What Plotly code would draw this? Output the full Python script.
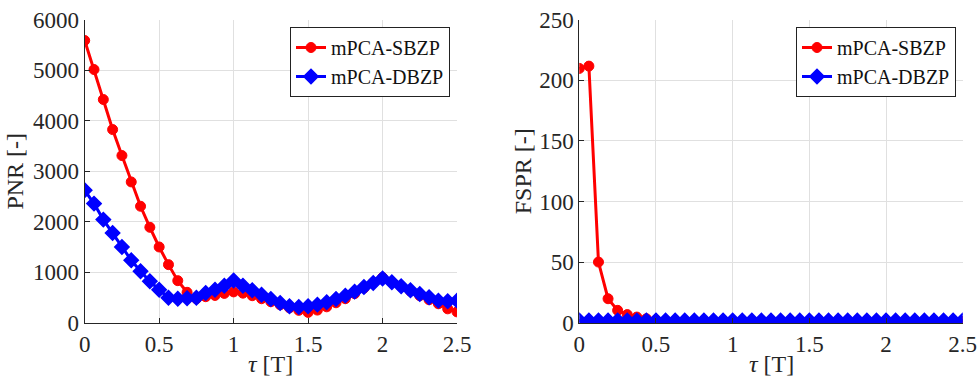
import plotly.graph_objects as go

# delay tau in units of T
tau = [0.0, 0.0625, 0.125, 0.1875, 0.25, 0.3125, 0.375, 0.4375, 0.5, 0.5625,
       0.625, 0.6875, 0.75, 0.8125, 0.875, 0.9375, 1.0, 1.0625, 1.125, 1.1875,
       1.25, 1.3125, 1.375, 1.4375, 1.5, 1.5625, 1.625, 1.6875, 1.75, 1.8125,
       1.875, 1.9375, 2.0, 2.0625, 2.125, 2.1875, 2.25, 2.3125, 2.375, 2.4375,
       2.5]

# peak-to-noise ratio
pnr_sbzp = [5585, 5011, 4418, 3824, 3310, 2789, 2308, 1892, 1503, 1154,
            837, 607, 480, 520, 545, 585, 615, 590, 540, 480,
            420, 360, 300, 250, 210, 255, 320, 400, 480, 580,
            690, 800, 900, 810, 720, 630, 540, 460, 380, 280,
            220]
pnr_dbzp = [2624, 2360, 2044, 1780, 1503, 1240, 1022, 824, 659, 500,
            480, 490, 500, 593, 659, 738, 840, 738, 646, 560,
            475, 396, 330, 316, 330, 363, 409, 475, 541, 620,
            712, 791, 880, 804, 725, 646, 574, 508, 442, 429,
            442]

# false-side-peak ratio
fspr_sbzp = [209.7, 211.6, 50.2, 20.0, 10.4, 6.9, 4.9, 3.5, 2.5, 2.0,
             1.7, 1.5, 1.4, 1.3, 1.3, 1.2, 1.2, 1.2, 1.2, 1.2,
             1.2, 1.2, 1.2, 1.2, 1.2, 1.2, 1.2, 1.2, 1.2, 1.2,
             1.2, 1.2, 1.2, 1.2, 1.2, 1.2, 1.2, 1.2, 1.2, 1.2,
             1.2]
fspr_dbzp = [2.1, 2.0, 2.0, 2.0, 2.0, 2.0, 2.0, 2.0, 2.0, 2.0,
             2.0, 2.0, 2.0, 2.0, 2.0, 2.0, 2.0, 2.0, 2.0, 2.0,
             2.0, 2.0, 2.0, 2.0, 2.0, 2.0, 2.0, 2.0, 2.0, 2.0,
             2.0, 2.0, 2.0, 2.0, 2.0, 2.0, 2.0, 2.0, 2.0, 2.0,
             2.0]

x_ticks = [0, 0.5, 1, 1.5, 2, 2.5]
x_ticklabels = ["0", "0.5", "1", "1.5", "2", "2.5"]
pnr_ticks = [0, 1000, 2000, 3000, 4000, 5000, 6000]
fspr_ticks = [0, 50, 100, 150, 200, 250]
x_title = "<i>τ</i> [T]"

FONT = "Liberation Serif"
AX = "#262626"
GRID = "#e0e0e0"
RED = "#ff0000"
BLUE = "#0000ff"
TICK_SIZE = 23
TITLE_SIZE = 24

fig = go.Figure()

def add_pair(xaxis, yaxis, legend, y_s, y_d):
    fig.add_trace(go.Scatter(
        x=tau, y=y_s, name="mPCA-SBZP", mode="lines+markers",
        line=dict(color=RED, width=3),
        marker=dict(symbol="circle", size=10, color=RED,
                    line=dict(color=RED, width=1)),
        xaxis=xaxis, yaxis=yaxis, legend=legend))
    fig.add_trace(go.Scatter(
        x=tau, y=y_d, name="mPCA-DBZP", mode="lines+markers",
        line=dict(color=BLUE, width=3),
        marker=dict(symbol="diamond", size=11, color=BLUE,
                    line=dict(color=BLUE, width=1.5)),
        xaxis=xaxis, yaxis=yaxis, legend=legend))

add_pair("x", "y", "legend", pnr_sbzp, pnr_dbzp)
add_pair("x2", "y2", "legend2", fspr_sbzp, fspr_dbzp)

W, H = 978, 378
left_dom = [84.7 / W, 457 / W]
right_dom = [579.3 / W, 962.7 / W]

xcommon = dict(range=[0, 2.5], tickvals=x_ticks, ticktext=x_ticklabels,
               showline=True, linecolor=AX, linewidth=1, mirror=False,
               ticks="inside", ticklen=5, tickcolor=AX,
               showgrid=True, gridcolor=GRID, gridwidth=1, zeroline=False,
               tickfont=dict(family=FONT, size=TICK_SIZE, color=AX),
               automargin=False)
ycommon = dict(showline=True, linecolor=AX, linewidth=1, mirror=False,
               ticks="inside", ticklen=5, tickcolor=AX,
               showgrid=True, gridcolor=GRID, gridwidth=1, zeroline=False,
               tickfont=dict(family=FONT, size=TICK_SIZE, color=AX),
               automargin=False)

ydom = [(H - 323) / H, (H - 19.5) / H]

legend_style = dict(bgcolor="white", bordercolor="#222222", borderwidth=1,
                    font=dict(family=FONT, size=20, color="#111111"),
                    xanchor="right", yanchor="top", y=(H - 27) / H,
                    tracegroupgap=0, itemwidth=30)

# x-axis titles sit right on the bottom edge of the page
x_titles = [
    dict(text=x_title, xref="paper", yref="paper",
         x=sum(dom) / 2, y=0, xanchor="center", yanchor="bottom",
         borderpad=0,
         showarrow=False, font=dict(family=FONT, size=TITLE_SIZE, color=AX))
    for dom in (left_dom, right_dom)
]

fig.update_layout(
    width=W, height=H,
    margin=dict(l=0, r=0, t=0, b=0),
    paper_bgcolor="white", plot_bgcolor="white",
    showlegend=True,
    xaxis=dict(domain=left_dom, anchor="y", **xcommon),
    yaxis=dict(domain=ydom, anchor="x", range=[0, 6000], tickvals=pnr_ticks,
               title=dict(text="PNR [-]",
                          font=dict(family=FONT, size=TITLE_SIZE, color=AX),
                          standoff=2),
               **ycommon),
    xaxis2=dict(domain=right_dom, anchor="y2", **xcommon),
    yaxis2=dict(domain=ydom, anchor="x2", range=[0, 250], tickvals=fspr_ticks,
                title=dict(text="FSPR [-]",
                           font=dict(family=FONT, size=TITLE_SIZE, color=AX),
                           standoff=0),
                **ycommon),
    legend=dict(x=450 / W, **legend_style),
    legend2=dict(x=956 / W, **legend_style),
    annotations=x_titles,
)

fig.write_html("out.html")
